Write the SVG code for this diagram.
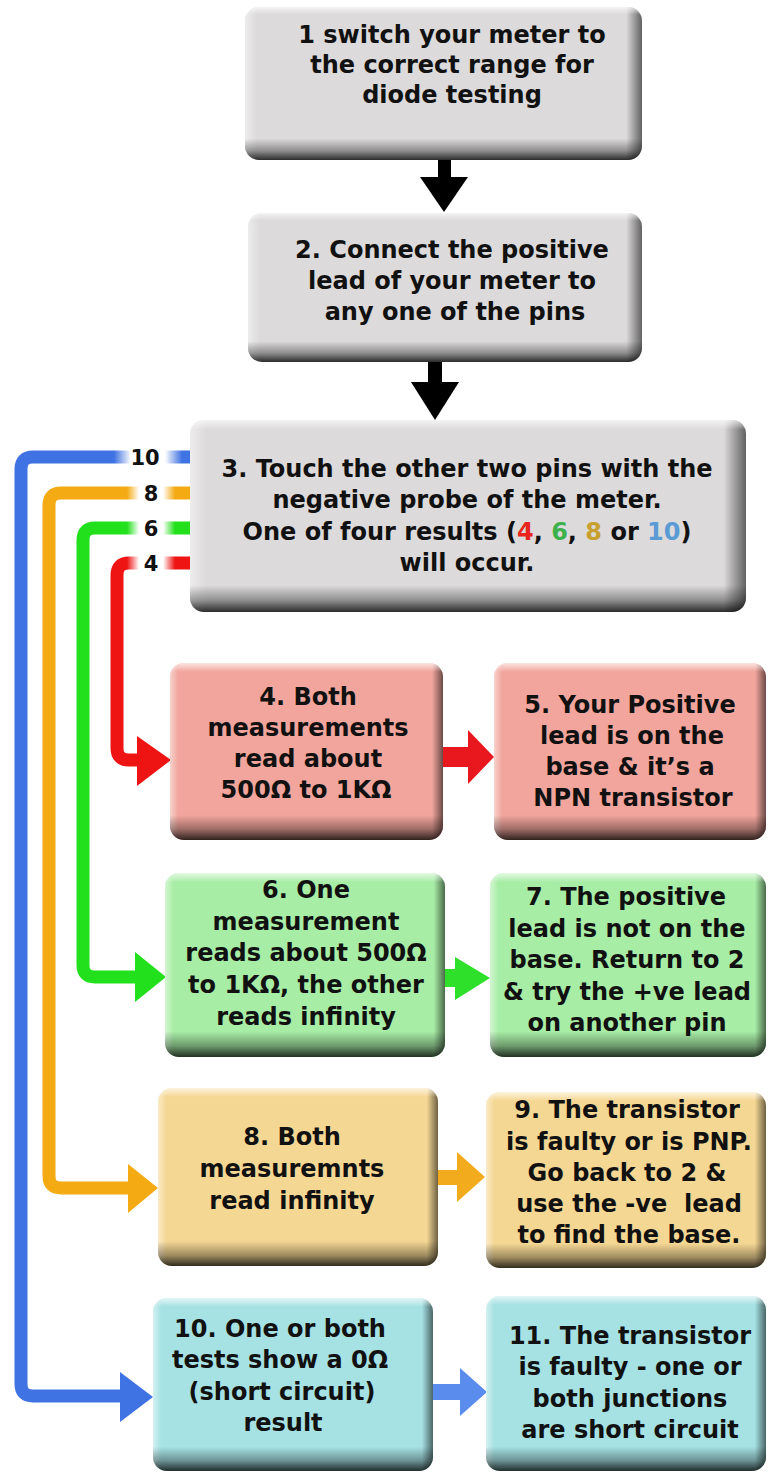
<svg xmlns="http://www.w3.org/2000/svg" width="768" height="1476" viewBox="0 0 768 1476">
<style>
.t{font-family:"DejaVu Sans","Liberation Sans",sans-serif;font-weight:bold;font-size:24px;text-anchor:middle;fill:#111}
.lbl{font-family:"DejaVu Sans","Liberation Sans",sans-serif;font-weight:bold;font-size:21px;text-anchor:middle;fill:#111}
.ln{fill:none;stroke-width:13}
.sv{fill:url(#gv)}
.sh{fill:url(#gh)}
</style>
<defs>
<linearGradient id="gv" x1="0" y1="0" x2="0" y2="1">
<stop offset="0" stop-color="#fff" stop-opacity="0.7"/>
<stop offset="0.05" stop-color="#fff" stop-opacity="0"/>
<stop offset="0.86" stop-color="#000" stop-opacity="0"/>
<stop offset="0.94" stop-color="#000" stop-opacity="0.35"/>
<stop offset="1" stop-color="#000" stop-opacity="0.8"/>
</linearGradient>
<linearGradient id="gh" x1="0" y1="0" x2="1" y2="0">
<stop offset="0" stop-color="#fff" stop-opacity="0.5"/>
<stop offset="0.03" stop-color="#fff" stop-opacity="0"/>
<stop offset="0.96" stop-color="#000" stop-opacity="0"/>
<stop offset="1" stop-color="#000" stop-opacity="0.55"/>
</linearGradient>
<linearGradient id="fade" x1="0" y1="0" x2="1" y2="0">
<stop offset="0" stop-color="#fff" stop-opacity="0"/>
<stop offset="0.25" stop-color="#fff" stop-opacity="1"/>
<stop offset="0.75" stop-color="#fff" stop-opacity="1"/>
<stop offset="1" stop-color="#fff" stop-opacity="0"/>
</linearGradient>
</defs>
<rect width="768" height="1476" fill="#fff"/>

<g id="connectors">
<rect x="438" y="155" width="13" height="24" fill="#000"/>
<polygon points="420,177 468,177 444,212" fill="#000"/>
<rect x="428" y="355" width="14" height="29" fill="#000"/>
<polygon points="411,382 459,382 435,420" fill="#000"/>
<path class="ln" stroke="#3f72e2" d="M195,457 H33 Q21,457 21,469 V1384 Q21,1396 33,1396 H124"/>
<polygon points="120,1372 153,1397 120,1422" fill="#3f72e2"/>
<path class="ln" stroke="#f4aa12" d="M195,493 H61 Q49,493 49,505 V1176 Q49,1188 61,1188 H131"/>
<polygon points="128,1164 158,1188 128,1213" fill="#f4aa12"/>
<path class="ln" stroke="#22e01c" d="M195,528 H95 Q83,528 83,540 V965 Q83,977 95,977 H138"/>
<polygon points="135,952 166,977 135,1002" fill="#22e01c"/>
<path class="ln" stroke="#ee1414" d="M195,563 H129 Q117,563 117,575 V748 Q117,760 129,760 H140"/>
<polygon points="137,736 171,760 137,786" fill="#ee1414"/>
<rect x="114" y="449" width="68" height="17" fill="url(#fade)"/>
<rect x="127" y="485" width="48" height="17" fill="url(#fade)"/>
<rect x="127" y="520" width="48" height="17" fill="url(#fade)"/>
<rect x="127" y="555" width="48" height="17" fill="url(#fade)"/>
<text class="lbl" x="145" y="465">10</text>
<text class="lbl" x="151" y="501">8</text>
<text class="lbl" x="151" y="536">6</text>
<text class="lbl" x="151" y="571">4</text>
<rect x="440" y="747" width="30" height="20" fill="#e8181e"/>
<polygon points="468,730 494,757 468,784" fill="#e8181e"/>
<rect x="442" y="969" width="15" height="18" fill="#2fe02b"/>
<polygon points="455,957 490,978 455,1000" fill="#2fe02b"/>
<rect x="435" y="1170" width="24" height="15" fill="#f2ab1c"/>
<polygon points="457,1152 485,1177 457,1202" fill="#f2ab1c"/>
<rect x="430" y="1384" width="32" height="16" fill="#5a8cee"/>
<polygon points="460,1368 487,1392 460,1416" fill="#5a8cee"/>
</g>

<g id="n1">
<rect x="245" y="7" width="397" height="153" rx="14" fill="#dcdada"/>
<rect class="sh" x="245" y="7" width="397" height="153" rx="14"/>
<rect class="sv" x="245" y="7" width="397" height="153" rx="14"/>
<text class="t" x="452" y="43">1 switch your meter to</text>
<text class="t" x="452" y="73">the correct range for</text>
<text class="t" x="452" y="103">diode testing</text>
</g>

<g id="n2">
<rect x="248" y="213" width="394" height="149" rx="14" fill="#dcdada"/>
<rect class="sh" x="248" y="213" width="394" height="149" rx="14"/>
<rect class="sv" x="248" y="213" width="394" height="149" rx="14"/>
<text class="t" x="452" y="258">2. Connect the positive</text>
<text class="t" x="452" y="289">lead of your meter to</text>
<text class="t" x="455" y="320">any one of the pins</text>
</g>

<g id="n3">
<rect x="190" y="420" width="556" height="192" rx="14" fill="#dcdada"/>
<rect class="sh" x="190" y="420" width="556" height="192" rx="14"/>
<rect class="sv" x="190" y="420" width="556" height="192" rx="14"/>
<text class="t" x="467" y="477">3. Touch the other two pins with the</text>
<text class="t" x="467" y="508">negative probe of the meter.</text>
<text class="t" x="467" y="540">One of four results (<tspan fill="#e8261e">4</tspan>, <tspan fill="#3cb04a">6</tspan>, <tspan fill="#c8a030">8</tspan> or <tspan fill="#5b9bd5">10</tspan>)</text>
<text class="t" x="467" y="571">will occur.</text>
</g>

<g id="n4">
<rect x="170" y="663" width="273" height="177" rx="14" fill="#f1a59c"/>
<rect class="sh" x="170" y="663" width="273" height="177" rx="14"/>
<rect class="sv" x="170" y="663" width="273" height="177" rx="14"/>
<text class="t" x="308" y="705">4. Both</text>
<text class="t" x="308" y="736">measurements</text>
<text class="t" x="308" y="767">read about</text>
<text class="t" x="306" y="798">500Ω to 1KΩ</text>
</g>

<g id="n5">
<rect x="494" y="663" width="272" height="177" rx="14" fill="#f1a59c"/>
<rect class="sh" x="494" y="663" width="272" height="177" rx="14"/>
<rect class="sv" x="494" y="663" width="272" height="177" rx="14"/>
<text class="t" x="630" y="713">5. Your Positive</text>
<text class="t" x="632" y="744">lead is on the</text>
<text class="t" x="630" y="775">base &amp; it’s a</text>
<text class="t" x="633" y="806">NPN transistor</text>
</g>

<g id="n6">
<rect x="165" y="873" width="280" height="184" rx="14" fill="#a8eda6"/>
<rect class="sh" x="165" y="873" width="280" height="184" rx="14"/>
<rect class="sv" x="165" y="873" width="280" height="184" rx="14"/>
<text class="t" x="306" y="898">6. One</text>
<text class="t" x="306" y="930">measurement</text>
<text class="t" x="306" y="961">reads about 500Ω</text>
<text class="t" x="306" y="993">to 1KΩ, the other</text>
<text class="t" x="306" y="1025">reads infinity</text>
</g>

<g id="n7">
<rect x="490" y="873" width="276" height="184" rx="14" fill="#a8eda6"/>
<rect class="sh" x="490" y="873" width="276" height="184" rx="14"/>
<rect class="sv" x="490" y="873" width="276" height="184" rx="14"/>
<text class="t" x="626" y="905">7. The positive</text>
<text class="t" x="627" y="937">lead is not on the</text>
<text class="t" x="627" y="968">base. Return to 2</text>
<text class="t" x="627" y="1000">&amp; try the +ve lead</text>
<text class="t" x="627" y="1031">on another pin</text>
</g>

<g id="n8">
<rect x="158" y="1088" width="280" height="178" rx="14" fill="#f5d794"/>
<rect class="sh" x="158" y="1088" width="280" height="178" rx="14"/>
<rect class="sv" x="158" y="1088" width="280" height="178" rx="14"/>
<text class="t" x="292" y="1145">8. Both</text>
<text class="t" x="292" y="1177">measuremnts</text>
<text class="t" x="292" y="1209">read infinity</text>
</g>

<g id="n9">
<rect x="486" y="1092" width="280" height="176" rx="14" fill="#f5d794"/>
<rect class="sh" x="486" y="1092" width="280" height="176" rx="14"/>
<rect class="sv" x="486" y="1092" width="280" height="176" rx="14"/>
<text class="t" x="627" y="1118">9. The transistor</text>
<text class="t" x="629" y="1150">is faulty or is PNP.</text>
<text class="t" x="627" y="1181">Go back to 2 &amp;</text>
<text class="t" x="629" y="1212" xml:space="preserve">use the -ve  lead</text>
<text class="t" x="629" y="1243">to find the base.</text>
</g>

<g id="n10">
<rect x="153" y="1298" width="280" height="173" rx="14" fill="#a6e2e4"/>
<rect class="sh" x="153" y="1298" width="280" height="173" rx="14"/>
<rect class="sv" x="153" y="1298" width="280" height="173" rx="14"/>
<text class="t" x="280" y="1337">10. One or both</text>
<text class="t" x="280" y="1368">tests show a 0Ω</text>
<text class="t" x="282" y="1400">(short circuit)</text>
<text class="t" x="283" y="1431">result</text>
</g>

<g id="n11">
<rect x="486" y="1296" width="280" height="175" rx="14" fill="#a6e2e4"/>
<rect class="sh" x="486" y="1296" width="280" height="175" rx="14"/>
<rect class="sv" x="486" y="1296" width="280" height="175" rx="14"/>
<text class="t" x="630" y="1344">11. The transistor</text>
<text class="t" x="630" y="1375">is faulty - one or</text>
<text class="t" x="630" y="1407">both junctions</text>
<text class="t" x="630" y="1438">are short circuit</text>
</g>
</svg>
